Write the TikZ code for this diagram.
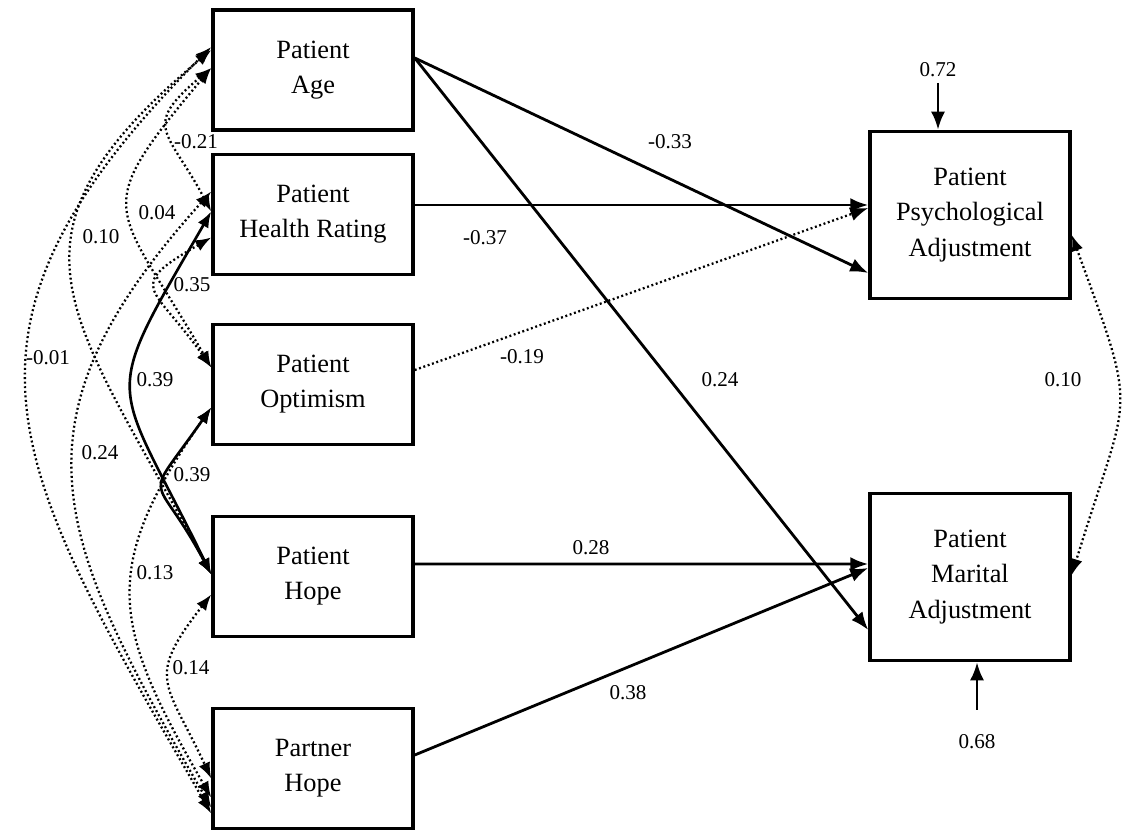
\documentclass[tikz,border=0pt]{standalone}
\usepackage{fontspec}
\setmainfont{Liberation Serif}
\usetikzlibrary{positioning,arrows.meta}
\tikzset{
  var/.style={draw=black,line width=2pt,fill=white,minimum width=4cm,minimum height=2.4cm,
    align=center,font=\fontsize{15}{20}\selectfont},
  outcome/.style={var,minimum height=3.34cm},
  coef/.style={font=\fontsize{12}{14}\selectfont,inner sep=1pt},
  effect/.style={draw=black,line width=1.6pt,-{Latex[length=3.6mm,width=2.8mm]}},
  weak/.style={effect,line width=1.3pt,dash pattern=on 1.1pt off 1.5pt},
  corr/.style={draw=black,line width=1.3pt,dash pattern=on 1.1pt off 1.5pt,
    {Latex[length=3.2mm,width=2.4mm]}-{Latex[length=3.2mm,width=2.4mm]}},
  corrsig/.style={corr,solid,line width=1.5pt},
}

\begin{document}
\begin{tikzpicture}
\useasboundingbox (0,0) rectangle (22.44,16.66);
% observed variables
\node[var] (age) at (6.26,15.26) {Patient\\Age};
\node[var] (health) at (6.26,12.37) {Patient\\Health Rating};
\node[var] (optim) at (6.26,8.97) {Patient\\Optimism};
\node[var] (phope) at (6.26,5.13) {Patient\\Hope};
\node[var] (thope) at (6.26,1.29) {Partner\\Hope};
\node[outcome] (psych) at (19.40,12.36) {Patient\\Psychological\\Adjustment};
\node[outcome] (marit) at (19.40,5.12) {Patient\\Marital\\Adjustment};

% direct paths
\draw[effect] ([yshift=0.24cm]age.east) -- ([yshift=-1.16cm]psych.west);
\draw[effect] ([yshift=0.24cm]age.east) -- ([yshift=-1.06cm]marit.west);
\draw[effect] ([yshift=0.19cm]health.east) -- ([yshift=0.2cm]psych.west);
\draw[weak] ([yshift=0.29cm]optim.east) -- ([yshift=0.14cm]psych.west);
\draw[effect] ([yshift=0.25cm]phope.east) -- ([yshift=0.26cm]marit.west);
\draw[effect] ([yshift=0.27cm]thope.east) -- ([yshift=0.18cm]marit.west);
\node[coef] (c1) at (13.40,13.82) {-0.33};
\node[coef] (c2) at (9.70,11.90) {-0.37};
\node[coef] (c3) at (10.44,9.52) {-0.19};
\node[coef] (c4) at (14.40,9.06) {0.24};
\node[coef] (c5) at (11.82,5.70) {0.28};
\node[coef] (c6) at (12.56,2.80) {0.38};

% residuals
\node[coef] (e1) at (18.76,15.26) {0.72};
\draw[effect,shorten <=2pt] (e1.south) -- (e1.south |- psych.north);
\node[coef] (e2) at (19.54,1.82) {0.68};
\draw[effect,shorten <=0.46cm] (e2.north) -- (e2.north |- marit.south);
\draw[corr] ([yshift=-0.4cm]psych.east) to[out=-70,in=73,looseness=1.5] ([yshift=0.04cm]marit.east);
\node[coef] (r1) at (21.26,9.06) {0.10};

% correlations among predictors
\draw[corr] ([yshift=0.46cm]age.west) to[out=225,in=120,looseness=1.35] ([yshift=-0.90cm]thope.west);
\draw[corr] ([yshift=0.40cm]age.west) to[out=220,in=118,looseness=1.45] ([yshift=0.04cm]phope.west);
\draw[corr] ([yshift=0.04cm]age.west) to[out=230,in=120,looseness=1.65] ([yshift=0.34cm]optim.west);
\draw[corr] ([yshift=0.04cm]age.west) to[out=220,in=118,looseness=1.65] ([yshift=0.06cm]health.west);
\draw[corr] ([yshift=-0.46cm]health.west) to[out=210,in=125,looseness=2] ([yshift=0.34cm]optim.west);
\draw[corr] ([yshift=0.46cm]health.west) to[out=228,in=120,looseness=1.3] ([yshift=-0.78cm]thope.west);
\draw[corrsig] ([yshift=0.06cm]health.west) to[out=240,in=116,looseness=1.6] ([yshift=0.04cm]phope.west);
\draw[corrsig] ([yshift=-0.46cm]optim.west) to[out=235,in=118,looseness=1.9] ([yshift=0.04cm]phope.west);
\draw[corr] ([yshift=-0.46cm]optim.west) to[out=235,in=120,looseness=1.3] ([yshift=-0.58cm]thope.west);
\draw[corr] ([yshift=-0.36cm]phope.west) to[out=232,in=115,looseness=1.5] ([yshift=-0.20cm]thope.west);
\node[coef] (k1) at (3.92,13.82) {-0.21};
\node[coef] (k2) at (3.14,12.40) {0.04};
\node[coef] (k3) at (2.02,11.92) {0.10};
\node[coef] (k4) at (0.96,9.50) {-0.01};
\node[coef] (k5) at (3.84,10.96) {0.35};
\node[coef] (k6) at (3.10,9.06) {0.39};
\node[coef] (k7) at (2.00,7.60) {0.24};
\node[coef] (k8) at (3.84,7.16) {0.39};
\node[coef] (k9) at (3.10,5.20) {0.13};
\node[coef] (k10) at (3.82,3.30) {0.14};
\end{tikzpicture}
\end{document}
